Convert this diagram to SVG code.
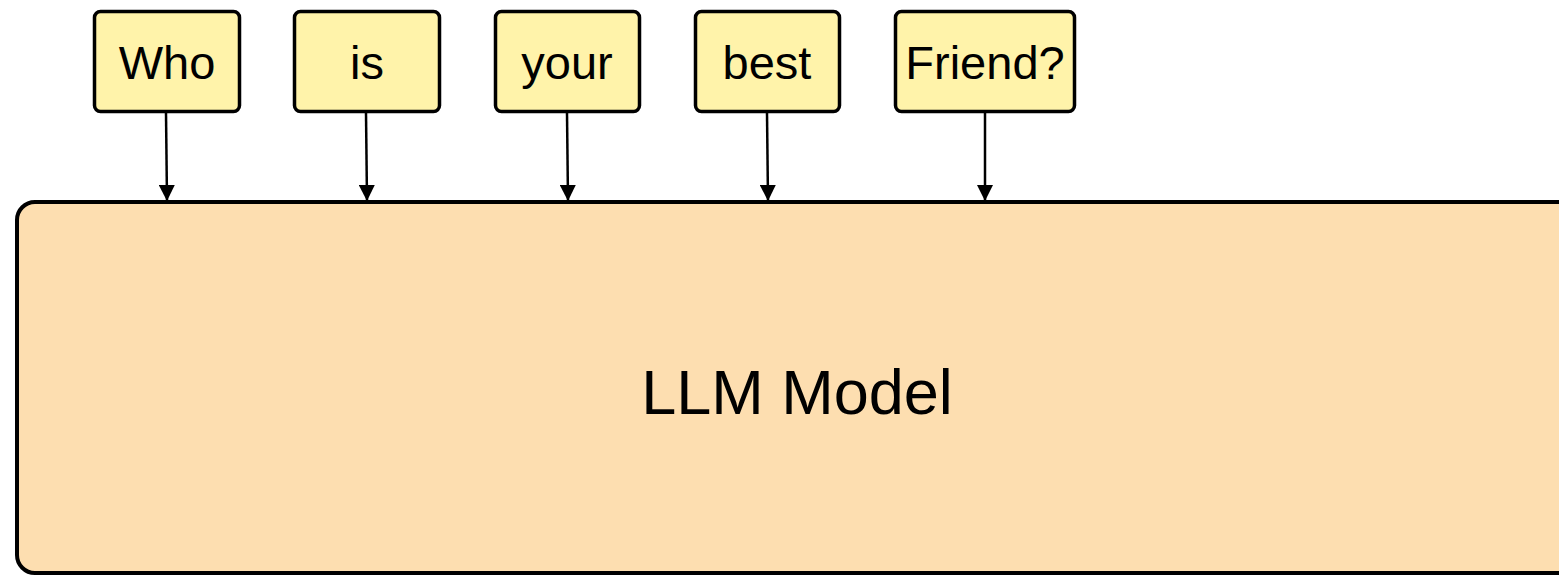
<svg xmlns="http://www.w3.org/2000/svg" width="1559" height="575" viewBox="0 0 1559 575">
  <defs>
    <marker id="arrow" viewBox="0 0 16 16" refX="16" refY="8" markerWidth="16" markerHeight="16" markerUnits="userSpaceOnUse" orient="auto">
      <path d="M0,0 L16,8 L0,16 Z" fill="#000"/>
    </marker>
    <style>
      .token rect { fill: #fff3aa; stroke: #000; stroke-width: 3.5; }
      .token text { font-family: "Liberation Sans", Arial, sans-serif; font-size: 47px; fill: #000; text-anchor: middle; }
      .model rect { fill: #fddeb0; stroke: #000; stroke-width: 4; }
      .model text { font-family: "Liberation Sans", Arial, sans-serif; font-size: 63px; fill: #000; text-anchor: middle; }
      .edge { stroke: #000; stroke-width: 2.5; fill: none; }
    </style>
  </defs>

  <!-- model body -->
  <g id="llm-model" class="model">
    <rect x="17" y="202" width="1570" height="371" rx="18" ry="18"/>
    <text x="797" y="414">LLM Model</text>
  </g>

  <!-- input tokens -->
  <g id="token-who" class="token">
    <rect x="94.5" y="11.5" width="145" height="100" rx="6" ry="6"/>
    <text x="167" y="79">Who</text>
  </g>
  <g id="token-is" class="token">
    <rect x="294.5" y="11.5" width="145" height="100" rx="6" ry="6"/>
    <text x="367" y="79">is</text>
  </g>
  <g id="token-your" class="token">
    <rect x="495.5" y="11.5" width="144" height="100" rx="6" ry="6"/>
    <text x="567" y="79">your</text>
  </g>
  <g id="token-best" class="token">
    <rect x="695.5" y="11.5" width="144" height="100" rx="6" ry="6"/>
    <text x="767" y="79">best</text>
  </g>
  <g id="token-friend" class="token">
    <rect x="895.5" y="11.5" width="179" height="100" rx="6" ry="6"/>
    <text x="985" y="79">Friend?</text>
  </g>

  <!-- token to model connectors -->
  <g id="connectors">
    <line class="edge" x1="166" y1="113" x2="167" y2="201" marker-end="url(#arrow)"/>
    <line class="edge" x1="366" y1="113" x2="367" y2="201" marker-end="url(#arrow)"/>
    <line class="edge" x1="567" y1="113" x2="568" y2="201" marker-end="url(#arrow)"/>
    <line class="edge" x1="767" y1="113" x2="768" y2="201" marker-end="url(#arrow)"/>
    <line class="edge" x1="985" y1="113" x2="985" y2="201" marker-end="url(#arrow)"/>
  </g>
</svg>
